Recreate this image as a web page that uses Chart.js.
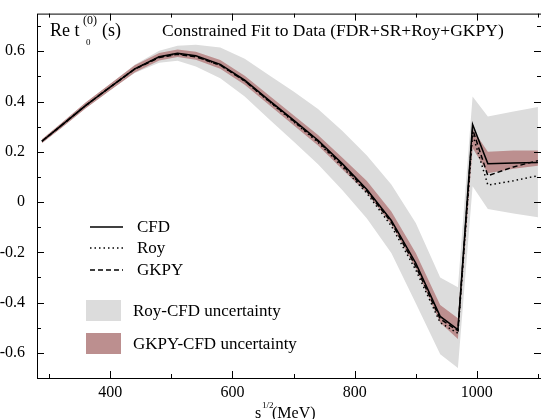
<!DOCTYPE html>
<html lang="en">
<head>
<meta charset="UTF-8">
<title>Re t00(s) - Constrained Fit to Data</title>
<script src="https://cdn.jsdelivr.net/npm/chart.js"></script>
<style>
  body { margin: 0; background: #fff; }
  #wrap { position: relative; width: 541px; height: 419px; }
</style>
</head>
<body>
<div id="wrap"><canvas id="fit" width="541" height="419"></canvas></div>
<script>
// sqrt(s) in MeV
const energy = [288, 320, 360, 400, 440, 480, 510, 540, 580, 620, 660, 700, 740, 780, 820, 860, 900, 940, 969, 993, 1018, 1060, 1100];

// central curves
const cfd  = [0.242, 0.305, 0.385, 0.458, 0.530, 0.578, 0.592, 0.582, 0.548, 0.485, 0.405, 0.326, 0.246, 0.152, 0.050, -0.073, -0.243, -0.455, -0.507, 0.309, 0.153, 0.156, 0.158];
const roy  = [0.242, 0.305, 0.385, 0.458, 0.530, 0.577, 0.590, 0.580, 0.545, 0.482, 0.400, 0.320, 0.238, 0.140, 0.035, -0.095, -0.270, -0.480, -0.522, 0.270, 0.068, 0.085, 0.105];
const gkpy = [0.242, 0.305, 0.385, 0.458, 0.529, 0.575, 0.588, 0.578, 0.545, 0.482, 0.402, 0.323, 0.242, 0.147, 0.044, -0.080, -0.255, -0.465, -0.512, 0.290, 0.105, 0.140, 0.165];

// Roy-CFD uncertainty band (grey)
const royHi = [0.248, 0.313, 0.395, 0.470, 0.546, 0.602, 0.622, 0.626, 0.615, 0.570, 0.505, 0.440, 0.370, 0.283, 0.185, 0.070, -0.083, -0.300, -0.339, 0.420, 0.341, 0.360, 0.378];
const royLo = [0.236, 0.297, 0.375, 0.446, 0.514, 0.554, 0.562, 0.540, 0.493, 0.420, 0.330, 0.241, 0.151, 0.047, -0.065, -0.203, -0.403, -0.605, -0.660, 0.063, -0.028, -0.045, -0.060];

// GKPY-CFD uncertainty band (rose)
const gkpyHi = [0.250, 0.315, 0.397, 0.471, 0.544, 0.593, 0.607, 0.598, 0.565, 0.503, 0.424, 0.346, 0.267, 0.176, 0.084, -0.037, -0.203, -0.410, -0.462, 0.290, 0.200, 0.205, 0.205];
const gkpyLo = [0.234, 0.295, 0.373, 0.445, 0.516, 0.563, 0.577, 0.566, 0.531, 0.467, 0.386, 0.306, 0.225, 0.130, 0.036, -0.089, -0.263, -0.480, -0.545, 0.215, 0.115, 0.133, 0.145];

// axes
const xTicks = [400, 600, 800, 1000];
const xMinorTicks = [300, 500, 700, 900, 1100];
const yTicks = [-0.6, -0.4, -0.2, 0, 0.2, 0.4, 0.6];
const yTickLabels = ['-0.6', '-0.4', '-0.2', '0', '0.2', '0.4', '0.6'];
const yMinorTicks = [-0.7, -0.5, -0.3, -0.1, 0.1, 0.3, 0.5, 0.7];

const SERIF = '"Liberation Serif", "Times New Roman", serif';
const GREY = '#dcdcdc';
const ROSE = '#bc8f8f';

const pts = arr => energy.map((e, i) => ({ x: e, y: arr[i] }));

// frame, inward ticks, title and legend
const decor = {
  id: 'decor',
  afterDraw(chart) {
    const { ctx, chartArea: a, scales: { x, y } } = chart;
    ctx.save();
    ctx.strokeStyle = '#000';
    ctx.lineWidth = 1;
    ctx.setLineDash([]);
    ctx.strokeRect(a.left + 0.5, a.top + 0.5, a.right - a.left, a.bottom - a.top);

    ctx.beginPath();
    const yAll = yTicks.map(v => [v, 7]).concat(yMinorTicks.map(v => [v, 4]));
    yAll.forEach(([v, len]) => {
      const py = Math.round(y.getPixelForValue(v)) + 0.5;
      ctx.moveTo(a.left, py); ctx.lineTo(a.left + len, py);
      ctx.moveTo(a.right, py); ctx.lineTo(a.right - len, py);
    });
    const xAll = xTicks.map(v => [v, 7]).concat(xMinorTicks.map(v => [v, 4]));
    xAll.forEach(([v, len]) => {
      const px = Math.round(x.getPixelForValue(v)) + 0.5;
      ctx.moveTo(px, a.bottom); ctx.lineTo(px, a.bottom - len);
      ctx.moveTo(px, a.top); ctx.lineTo(px, a.top + len);
    });
    ctx.stroke();

    ctx.fillStyle = '#000';
    ctx.textBaseline = 'alphabetic';
    ctx.textAlign = 'left';

    // panel label Re t_0^(0)(s)
    ctx.font = '18px ' + SERIF;
    ctx.fillText('Re t', 50, 36);
    ctx.font = '12px ' + SERIF;
    ctx.fillText('(0)', 83, 24);
    ctx.font = '9px ' + SERIF;
    ctx.fillText('0', 86, 45);
    ctx.font = '18px ' + SERIF;
    ctx.fillText('(s)', 102, 36);

    // title
    ctx.font = '17.5px ' + SERIF;
    ctx.fillText('Constrained Fit to Data (FDR+SR+Roy+GKPY)', 162, 36);

    // x axis title s^(1/2)(MeV)
    ctx.font = '16px ' + SERIF;
    ctx.fillText('s', 255, 418);
    ctx.font = '9px ' + SERIF;
    ctx.fillText('1/2', 262, 408);
    ctx.font = '16px ' + SERIF;
    ctx.fillText('(MeV)', 272, 418);

    // legend: curves
    const rows = [
      { label: 'CFD', dash: [], y: 227 },
      { label: 'Roy', dash: [1.5, 3], y: 248 },
      { label: 'GKPY', dash: [5, 3], y: 270 }
    ];
    ctx.font = '17px ' + SERIF;
    ctx.textBaseline = 'middle';
    rows.forEach(r => {
      ctx.beginPath();
      ctx.setLineDash(r.dash);
      ctx.lineWidth = 1.5;
      ctx.moveTo(90, r.y); ctx.lineTo(123, r.y);
      ctx.stroke();
      ctx.fillText(r.label, 137, r.y + 1);
    });
    ctx.setLineDash([]);

    // legend: bands
    ctx.fillStyle = GREY;
    ctx.fillRect(86, 300, 35, 21);
    ctx.fillStyle = ROSE;
    ctx.fillRect(86, 333, 35, 21);
    ctx.fillStyle = '#000';
    ctx.fillText('Roy-CFD uncertainty', 133, 312);
    ctx.fillText('GKPY-CFD uncertainty', 133, 345);
    ctx.restore();
  }
};

const line = (arr, dash, order) => ({
  data: pts(arr),
  borderColor: '#000',
  borderWidth: 1.5,
  borderDash: dash,
  fill: false,
  order: order
});
const edge = (arr, fill, color, order) => ({
  data: pts(arr),
  borderColor: 'rgba(0,0,0,0)',
  borderWidth: 1,
  backgroundColor: color,
  fill: fill,
  order: order
});

new Chart(document.getElementById('fit'), {
  type: 'line',
  data: {
    datasets: [
      line(cfd, [], 0),
      line(roy, [1.5, 3], 0),
      line(gkpy, [5, 3], 0),
      edge(gkpyHi, '+1', ROSE, 1),
      edge(gkpyLo, false, ROSE, 1),
      edge(royHi, '+1', GREY, 2),
      edge(royLo, false, GREY, 2)
    ]
  },
  options: {
    responsive: false,
    animation: false,
    devicePixelRatio: 1,
    layout: { padding: { top: 6, right: 0, left: 0, bottom: 0 } },
    elements: { point: { radius: 0 }, line: { tension: 0 } },
    plugins: { legend: { display: false }, tooltip: { enabled: false } },
    scales: {
      x: {
        type: 'linear',
        min: 280,
        max: 1105,
        grid: { display: false },
        border: { display: false },
        afterBuildTicks: s => { s.ticks = xTicks.map(v => ({ value: v })); },
        afterFit: s => { s.height = 41; },
        ticks: {
          color: '#000',
          padding: -3,
          maxRotation: 0,
          font: { family: SERIF, size: 16 },
          callback: v => String(v)
        }
      },
      y: {
        type: 'linear',
        min: -0.7,
        max: 0.75,
        grid: { display: false },
        border: { display: false },
        afterBuildTicks: s => { s.ticks = yTicks.map(v => ({ value: v })); },
        afterFit: s => { s.width = 37; },
        ticks: {
          color: '#000',
          padding: 4,
          font: { family: SERIF, size: 16 },
          callback: (v, i) => yTickLabels[i]
        }
      }
    }
  },
  plugins: [decor]
});
</script>
</body>
</html>
